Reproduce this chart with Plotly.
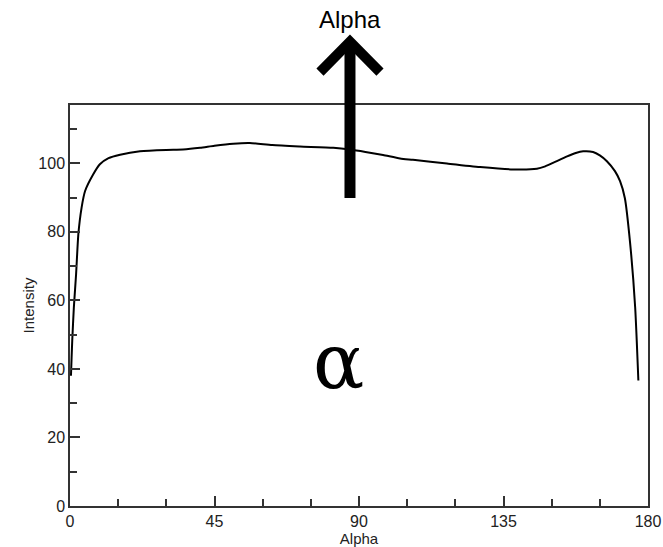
import plotly.graph_objects as go

# Data
alpha = [0.3, 0.5, 0.7, 1.2, 1.9, 2.6, 3.6, 4.7, 7.2, 9.3, 12.0, 15.6, 21.8, 30.0, 35.2, 40.5,
         45.0, 50.8, 56.0, 63.0, 71.6, 82.0, 87.2, 92.0, 97.5, 102.8, 106.8, 117.4, 127.7,
         138.0, 145.4, 148.0, 150.4, 154.8, 157.5, 159.8, 162.9, 165.0, 167.2, 169.7, 171.3,
         172.8, 174.4, 176.0, 177.0]
intensity = [38.0, 43.4, 48.3, 57.9, 67.7, 79.3, 87.0, 91.9, 96.7, 99.7, 101.5, 102.5, 103.5, 103.9, 104.0, 104.5,
             105.1, 105.7, 105.9, 105.3, 104.9, 104.5, 104.0, 103.3, 102.4, 101.4, 101.0, 99.9, 98.9,
             98.2, 98.4, 99.1, 100.1, 102.0, 103.0, 103.5, 103.3, 102.3, 100.6, 97.7, 94.8,
             89.8, 77.0, 58.0, 36.6]

x_ticks = [0, 45, 90, 135, 180]
y_ticks = [0, 20, 40, 60, 80, 100]

axis_font = dict(family="Liberation Sans, Arial, sans-serif", size=16, color="#222")

fig = go.Figure()
fig.add_trace(go.Scatter(x=alpha, y=intensity, mode="lines",
                         line=dict(color="black", width=2, shape="spline", smoothing=0.6),
                         showlegend=False, hoverinfo="skip"))

fig.update_layout(
    width=663, height=547,
    margin=dict(l=70, r=15, t=105, b=41),
    paper_bgcolor="white", plot_bgcolor="white",
    font=axis_font,
)
fig.update_xaxes(range=[0, 180], tickvals=x_ticks, ticktext=[str(v) for v in x_ticks],
                 ticks="inside", ticklen=10, tickwidth=1.5, tickcolor="#333",
                 minor=dict(dtick=15, tick0=0, ticks="inside", ticklen=7, tickwidth=1.5, tickcolor="#333"),
                 showline=True, linecolor="#333", linewidth=1.5, mirror=True,
                 showgrid=False, zeroline=False, automargin=False,
                 title=dict(text="Alpha", font=dict(size=15), standoff=0),
                 tickfont=dict(size=16))
fig.update_yaxes(range=[0, 117], tickvals=y_ticks, ticktext=[str(v) for v in y_ticks],
                 ticks="inside", ticklen=10, tickwidth=1.5, tickcolor="#333",
                 minor=dict(dtick=10, tick0=0, ticks="inside", ticklen=7, tickwidth=1.5, tickcolor="#333"),
                 showline=True, linecolor="#333", linewidth=1.5, mirror=True,
                 showgrid=False, zeroline=False, automargin=False,
                 title=dict(text="Intensity", font=dict(size=15), standoff=0),
                 tickfont=dict(size=16))

# Big arrow (decoration) in paper coordinates
fig.add_shape(type="line", xref="paper", yref="paper",
              x0=0.4844, x1=0.4844, y0=0.768, y1=1.15,
              line=dict(color="black", width=11))
fig.add_shape(type="path", xref="paper", yref="paper",
              path="M 0.4325 1.082 L 0.4844 1.158 L 0.5363 1.082",
              line=dict(color="black", width=10))

fig.add_annotation(text="Alpha", xref="paper", yref="paper", x=0.4844, y=1.212,
                   showarrow=False, yanchor="middle",
                   font=dict(family="Liberation Sans, Arial, sans-serif", size=24, color="black"))
fig.add_annotation(text="α", xref="paper", yref="paper", x=(338 - 70) / 578, y=(506 - 361) / 401,
                   showarrow=False, yanchor="middle",
                   font=dict(family="DejaVu Serif, serif", size=76, color="black"))

fig.write_html("out.html")
